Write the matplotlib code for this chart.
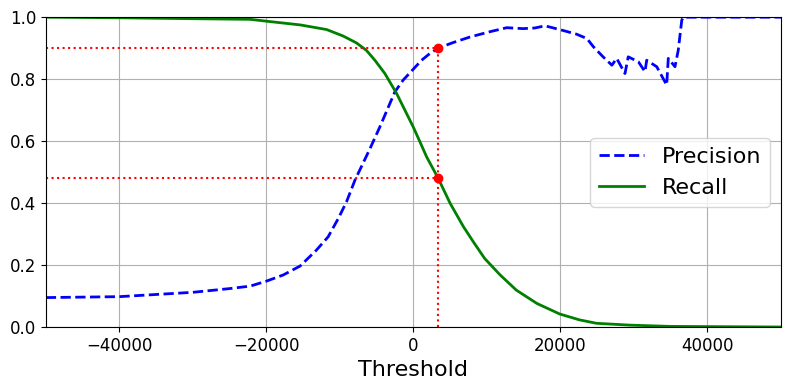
import matplotlib
matplotlib.use('Agg')
from matplotlib import pyplot as plt

# precision curve
prec_thr = [-50000, -40000, -30000, -25000, -22200, -20000, -17700, -15400, -13200,
            -11600, -10200, -9100, -7950, -5900, -4560, -2520, -1390, 1115, 2200, 3370,
            5400, 7700, 10400, 12700, 14900, 16500, 17900, 19900, 22200, 23600, 24500,
            25800, 27000, 27650, 28780, 29220, 30600, 31500, 31730, 33100, 34450,
            34670, 35580, 36030, 36500, 36710, 40000, 50000]
precision = [0.095, 0.098, 0.112, 0.124, 0.132, 0.148, 0.168, 0.197, 0.248,
             0.291, 0.351, 0.404, 0.474, 0.576, 0.646, 0.759, 0.797, 0.861, 0.882, 0.900,
             0.918, 0.936, 0.953, 0.966, 0.963, 0.965, 0.972, 0.960, 0.945, 0.931, 0.904,
             0.872, 0.845, 0.867, 0.818, 0.872, 0.856, 0.824, 0.861, 0.840, 0.781,
             0.867, 0.840, 0.894, 0.990, 1.0, 1.0, 1.0]

# recall curve
rec_thr = [-50000, -40000, -30000, -22200, -20000, -15400, -11800, -9550, -7750,
           -6400, -5240, -3880, -2290, -1160, -30, 885, 1800, 3370, 5000, 6800,
           8150, 9700, 11800, 14000, 16800, 19900, 22600, 24900, 29500, 35000, 50000]
recall = [1.0, 0.998, 0.995, 0.993, 0.987, 0.975, 0.960, 0.939, 0.917,
          0.893, 0.861, 0.818, 0.754, 0.700, 0.646, 0.598, 0.549, 0.480, 0.399, 0.324,
          0.275, 0.221, 0.168, 0.119, 0.076, 0.042, 0.023, 0.012, 0.006, 0.002, 0.0]

threshold_90 = 3370
recall_90 = 0.48

plt.figure(figsize=(7.9, 3.9), dpi=100)
plt.subplots_adjust(left=0.058, right=0.9886, top=0.956, bottom=0.1615)
plt.plot(prec_thr, precision, "b--", label="Precision", linewidth=2)
plt.plot(rec_thr, recall, "g-", label="Recall", linewidth=2)
plt.legend(loc="center right", fontsize=16)
plt.xlabel("Threshold", fontsize=16)
plt.grid(True)
plt.axis([-50000, 50000, 0, 1])
plt.tick_params(labelsize=12)

plt.plot([threshold_90, threshold_90], [0., 0.9], "r:")
plt.plot([-50000, threshold_90], [0.9, 0.9], "r:")
plt.plot([-50000, threshold_90], [recall_90, recall_90], "r:")
plt.plot([threshold_90], [0.9], "ro")
plt.plot([threshold_90], [recall_90], "ro")

plt.savefig("out.png")
